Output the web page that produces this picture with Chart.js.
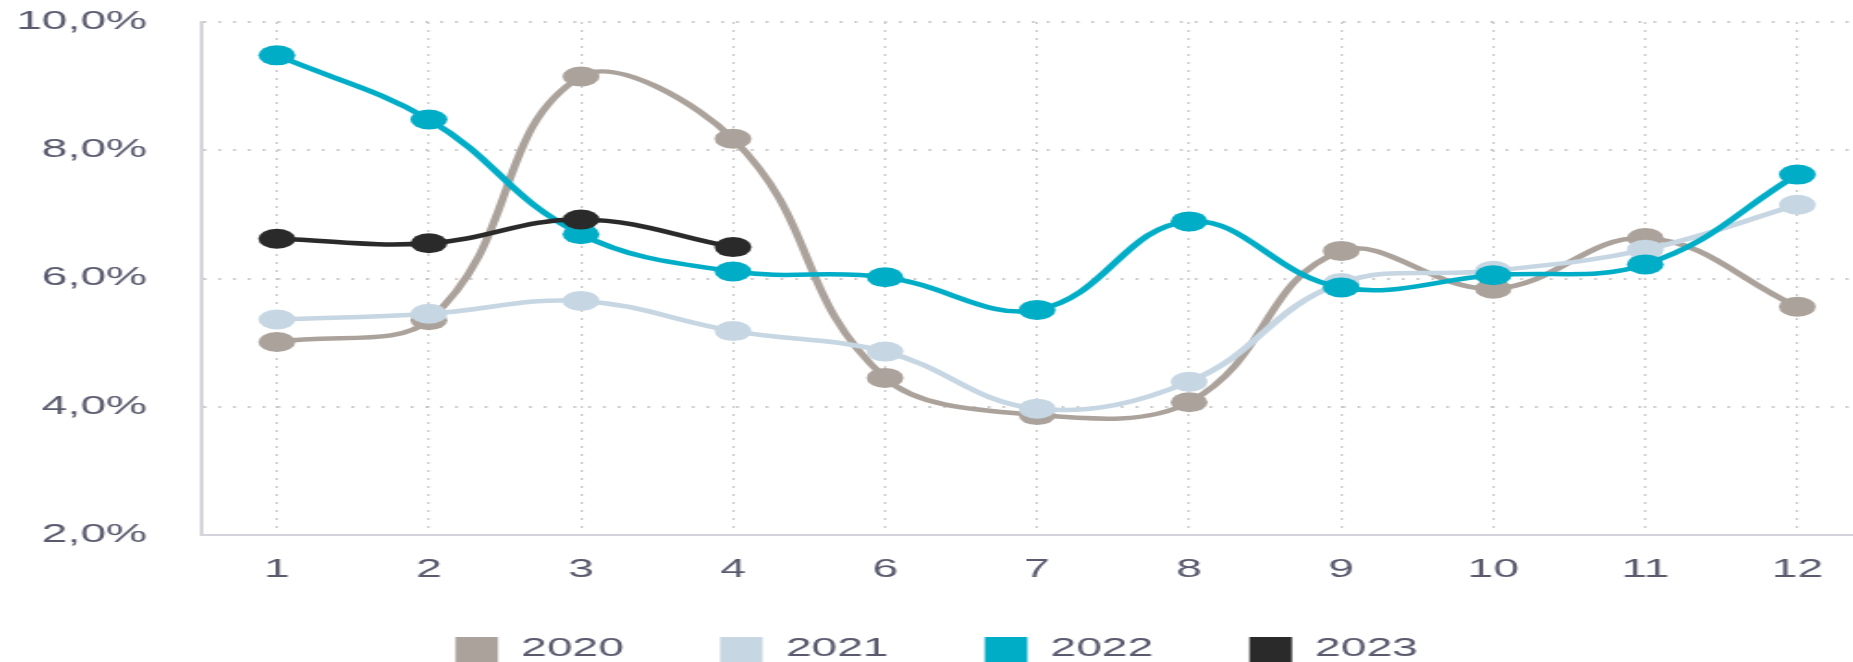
<!DOCTYPE html>
<html>
<head>
<meta charset="utf-8">
<script src="https://cdn.jsdelivr.net/npm/chart.js@4/dist/chart.umd.min.js"></script>
<style>
  html, body { margin: 0; padding: 0; background: #fff; overflow: hidden; }
  /* the reference is stretched sideways and cut at the right, so draw narrow and scale the box */
  #wrap { width: 1013px; height: 672px; transform: scaleX(1.8493); transform-origin: 0 0; }
  #lineChart { display: block; }
</style>
</head>
<body>
<div id="wrap"><canvas id="lineChart" width="1013" height="672"></canvas></div>
<script>
const months = ['1', '2', '3', '4', '6', '7', '8', '9', '10', '11', '12'];
const y2020 = [5.01, 5.35, 9.15, 8.18, 4.45, 3.87, 4.07, 6.43, 5.84, 6.63, 5.56];
const y2021 = [5.36, 5.45, 5.65, 5.18, 4.86, 3.97, 4.39, 5.93, 6.12, 6.45, 7.15];
const y2022 = [9.48, 8.48, 6.69, 6.11, 6.02, 5.51, 6.89, 5.86, 6.05, 6.22, 7.62];
const y2023 = [6.62, 6.55, 6.92, 6.49];

const years  = ['2020', '2021', '2022', '2023'];
const series = [y2020, y2021, y2022, y2023];
const colors = ['#aba39b', '#c6d6e2', '#00adc7', '#2a2a2a'];

const font = { family: "'Liberation Sans', Arial, sans-serif", size: 25 };
const tickColor = '#5a5a6e';

var datasets = [];
for (var i = 0; i < years.length; i++) {
    datasets.push({
        label: years[i],
        data: series[i],
        borderColor: colors[i],
        backgroundColor: colors[i],
        pointBackgroundColor: colors[i],
        pointBorderWidth: 0,
        pointRadius: 10,
        borderWidth: 4.5,
        tension: 0.4,
        fill: false,
        order: years.length - i   // later years on top
    });
}

const ctx = document.getElementById('lineChart').getContext('2d');
new Chart(ctx, {
    type: 'line',
    data: { labels: months, datasets: datasets },
    options: {
        responsive: false,
        animation: false,
        events: [],
        layout: { autoPadding: false, padding: { top: 22, left: 0, right: 0, bottom: 0 } },
        plugins: {
            tooltip: { enabled: false },
            legend: {
                position: 'bottom',
                labels: {
                    font: font,
                    color: tickColor,
                    boxWidth: 23,
                    boxHeight: 25,
                    padding: 52,
                    sort: (a, b) => a.datasetIndex - b.datasetIndex,
                    generateLabels: function (chart) {
                        const items = Chart.defaults.plugins.legend.labels.generateLabels(chart);
                        items.forEach(it => { it.lineWidth = 0; });
                        return items;
                    }
                }
            }
        },
        scales: {
            x: {
                offset: true,
                // invisible tick marks give the label gap
                grid: { color: '#c9c9c9', lineWidth: 1.2, drawTicks: true, tickLength: 20, tickColor: 'rgba(0,0,0,0)', offset: false },
                border: { display: true, color: '#d4d4dc', width: 2, dash: [2, 6] },
                ticks: { font: font, color: tickColor, padding: 0, maxRotation: 0, autoSkip: false },
                afterFit: function (scale) {
                    scale.height = 50;
                    scale.paddingLeft = 0;
                    scale.paddingRight = 0;
                }
            },
            y: {
                min: 2,
                max: 10,
                grid: { color: '#c9c9c9', lineWidth: 2, drawTicks: false },
                border: { display: true, color: '#d4d4dc', width: 2, dash: [1.5, 6.5] },
                ticks: {
                    stepSize: 2,
                    font: font,
                    color: tickColor,
                    padding: 29,
                    callback: v => v.toFixed(1).replace('.', ',') + '%'
                },
                afterFit: function (scale) {
                    scale.width = 108.6;
                    scale.paddingTop = 15;
                    scale.paddingBottom = 15;
                }
            }
        }
    }
});
</script>
</body>
</html>
